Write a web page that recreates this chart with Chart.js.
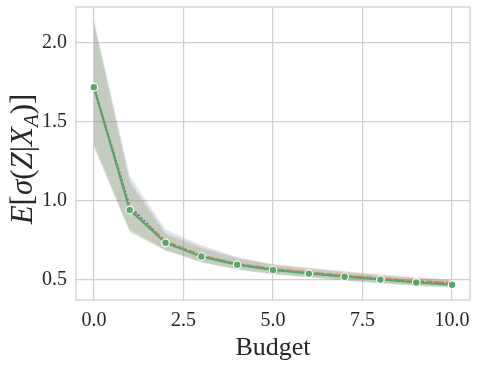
<!DOCTYPE html>
<html lang="en">
<head>
<meta charset="UTF-8">
<title>Budget chart</title>
<script src="https://cdn.jsdelivr.net/npm/chart.js"></script>
<style>
    body { margin: 0; background: #fff; }
    .wrap { width: 478px; height: 368px; }
</style>
</head>
<body>
<div class="wrap"><canvas id="grafico" width="478" height="368"></canvas></div>
<script>
const budget = [0, 1, 2, 3, 4, 5, 6, 7, 8, 9, 10];
const xTicks = [0, 2.5, 5, 7.5, 10];
const yTicks = [0.5, 1.0, 1.5, 2.0];

const meanGreen  = [1.72, 0.943, 0.735, 0.648, 0.596, 0.563, 0.540, 0.520, 0.502, 0.484, 0.470];
const meanOrange = [1.72, 0.950, 0.745, 0.655, 0.602, 0.570, 0.548, 0.528, 0.510, 0.494, 0.482];
const meanBlue   = [1.72, 0.965, 0.740, 0.652, 0.600, 0.567, 0.545, 0.525, 0.507, 0.490, 0.478];

const upGreen  = [2.13, 1.12, 0.79, 0.70, 0.635, 0.595, 0.570, 0.548, 0.528, 0.510, 0.495];
const lowGreen = [1.34, 0.80, 0.685, 0.610, 0.565, 0.535, 0.515, 0.495, 0.478, 0.462, 0.450];
const upBlue   = [2.15, 1.16, 0.82, 0.72, 0.645, 0.600, 0.575, 0.552, 0.532, 0.513, 0.498];
const lowBlue  = [1.36, 0.82, 0.69, 0.615, 0.568, 0.538, 0.518, 0.498, 0.481, 0.465, 0.454];
const upOrange = [2.12, 1.13, 0.80, 0.71, 0.640, 0.600, 0.578, 0.556, 0.536, 0.518, 0.503];
const lowOrange= [1.35, 0.81, 0.69, 0.613, 0.567, 0.540, 0.520, 0.500, 0.484, 0.468, 0.458];

const pts = arr => arr.map((v, i) => ({ x: budget[i], y: v }));
const serif = '"Liberation Serif", "DejaVu Serif", serif';

function line(data, color, dash, order, markers) {
    return {
        data: pts(data), borderColor: color, borderWidth: 2, borderDash: dash,
        pointRadius: markers ? 3.8 : 0, pointBackgroundColor: color,
        pointBorderColor: '#fff', pointBorderWidth: 1.2,
        fill: false, tension: 0, order: order
    };
}
function band(data, color, fillTo, order) {
    return {
        data: pts(data), borderWidth: 0, pointRadius: 0,
        backgroundColor: color, fill: fillTo, tension: 0, order: order
    };
}

// spines on all four sides + y label with subscript
const extras = {
    id: 'extras',
    beforeDatasetsDraw(chart) {
        const a = chart.chartArea, c = chart.ctx;
        c.save();
        c.strokeStyle = '#cccccc';
        c.lineWidth = 1.2;
        c.strokeRect(a.left, a.top, a.right - a.left, a.bottom - a.top);
        c.restore();
    },
    afterDraw(chart) {
        const c = chart.ctx;
        const parts = [
            ['E', 'italic', 31, 0], ['[', '', 31, 0], ['σ', 'italic', 31, 0], ['(', '', 31, 0],
            ['Z', 'italic', 31, 0], ['|', '', 31, 0], ['X', 'italic', 31, 0],
            ['A', 'italic', 21, 6], [')', '', 31, 0], [']', '', 31, 0]
        ];
        c.save();
        c.fillStyle = '#262626';
        let w = 0;
        parts.forEach(p => { c.font = p[1] + ' ' + p[2] + 'px ' + serif; w += c.measureText(p[0]).width; });
        c.translate(32, 159);
        c.rotate(-Math.PI / 2);
        let x = -w / 2;
        c.textBaseline = 'alphabetic';
        parts.forEach(p => {
            c.font = p[1] + ' ' + p[2] + 'px ' + serif;
            c.fillText(p[0], x, p[3]);
            x += c.measureText(p[0]).width;
        });
        c.restore();
    }
};

new Chart(document.getElementById('grafico').getContext('2d'), {
    type: 'line',
    data: {
        datasets: [
            line(meanGreen, '#55a868', [], 0, true),
            line(meanOrange, '#dd8452', [7, 3], 1, false),
            line(meanBlue, '#4c72b0', [2, 2], 2, false),
            band(upBlue, 'rgba(76,114,176,0.18)', '+1', 5),
            band(lowBlue, 'rgba(0,0,0,0)', false, 5),
            band(upOrange, 'rgba(221,132,82,0.18)', '+1', 4),
            band(lowOrange, 'rgba(0,0,0,0)', false, 4),
            band(upGreen, 'rgba(85,168,104,0.2)', '+1', 3),
            band(lowGreen, 'rgba(0,0,0,0)', false, 3)
        ]
    },
    options: {
        responsive: false,
        animation: false,
        layout: { padding: { left: 0, right: 8, top: 7, bottom: 0 } },
        plugins: { legend: { display: false }, tooltip: { enabled: false } },
        scales: {
            x: {
                type: 'linear', min: -0.5, max: 10.5,
                afterBuildTicks: s => { s.ticks = xTicks.map(v => ({ value: v })); },
                afterFit: s => { s.height = 68; s.paddingLeft = 0; s.paddingRight = 0; },
                ticks: { color: '#262626', font: { family: serif, size: 20 }, padding: 9,
                         maxRotation: 0, callback: v => v.toFixed(1) },
                grid: { color: '#d0d0d0', lineWidth: 1.2, drawTicks: false },
                border: { display: false },
                title: { display: true, text: 'Budget', color: '#262626',
                         font: { family: serif, size: 26 }, padding: { top: 0 } }
            },
            y: {
                min: 0.373, max: 2.228,
                afterBuildTicks: s => { s.ticks = yTicks.map(v => ({ value: v })); },
                afterFit: s => { s.width = 76; s.paddingTop = 0; s.paddingBottom = 0; },
                ticks: { color: '#262626', font: { family: serif, size: 20 }, padding: 9,
                         callback: v => v.toFixed(1) },
                grid: { color: '#d0d0d0', lineWidth: 1.2, drawTicks: false },
                border: { display: false }
            }
        }
    },
    plugins: [extras]
});
</script>
</body>
</html>
